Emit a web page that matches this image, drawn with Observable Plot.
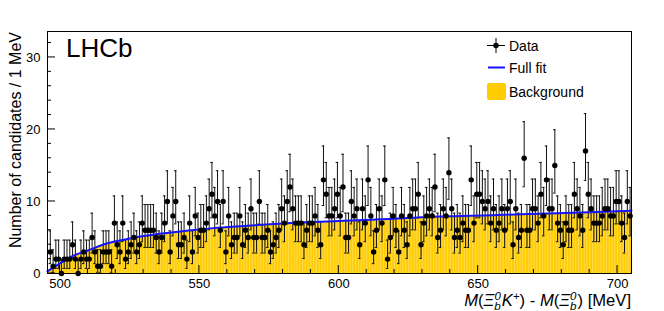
<!DOCTYPE html>
<html><head><meta charset="utf-8">
<script src="https://cdn.jsdelivr.net/npm/d3@7"></script>
<script src="https://cdn.jsdelivr.net/npm/@observablehq/plot@0.6"></script>
<style>body{margin:0;background:#fff} svg{display:block}</style>
</head><body><div id="chart"></div>
<script>
// lower edge of first 1 MeV bin
const binLow = 496;
// candidates per 1 MeV bin, 496..704
const counts = [
 3,1,2,2,0,2,2,2,4,2,
 0,2,3,2,2,5,3,1,1,3,
 3,3,1,7,4,3,7,2,3,4,
 5,3,4,7,6,6,6,6,5,3,
 5,7,10,3,8,10,4,4,5,2,
 7,3,8,5,6,6,7,9,11,8,
 10,6,10,3,8,4,5,5,8,4,
 6,5,9,5,5,10,5,5,6,3,
 4,5,6,9,7,10,12,9,7,7,
 7,4,6,7,7,8,6,4,13,11,
 8,8,9,11,8,12,5,5,10,8,
 9,4,9,7,13,8,3,6,9,7,
 13,2,5,8,6,3,8,6,4,8,
 9,9,11,4,7,8,9,8,12,5,
 6,9,8,14,9,5,6,5,7,6,
 6,13,7,11,11,10,9,10,7,9,
 6,7,9,6,9,10,4,9,5,6,
 16,6,6,9,9,7,11,8,13,9,
 9,15,7,6,4,7,6,6,11,9,
 8,6,17,11,9,7,7,7,8,9,
 9,8,8,10,10,7,5,10,8
];
// Poisson (Garwood 68%) interval bounds for a count n = index
const poissonLow  = [0,0.17,0.71,1.37,2.09,2.84,3.62,4.42,5.23,6.06,6.89,7.73,8.58,9.44,10.30,11.17,12.04,12.92];
const poissonHigh = [1.84,3.30,4.64,5.92,7.16,8.38,9.58,10.77,11.95,13.11,14.27,15.42,16.56,17.70,18.83,19.96,21.08,22.20];
// full fit curve
const fitMass  = [495.5,500,505,510,517,523,530,540,547,555,566,580,600,620,636,655,672,690,705];
const fitValue = [0.3,1.4,2.5,3.2,4.2,4.7,5.2,5.7,6.0,6.3,6.6,6.95,7.3,7.6,7.9,8.1,8.3,8.5,8.7];
// background component
const bkgValue = [0.3,1.4,2.5,3.2,4.2,4.7,5.2,5.7,6.0,6.3,6.6,6.95,7.3,7.6,7.9,8.1,8.3,8.5,8.7];
const xTicks = [500,550,600,650,700];
const xMinorTicks = [510,520,530,540,560,570,580,590,610,620,630,640,660,670,680,690];
const yTicks = [0,10,20,30];
const yMinorTicks = [2,4,6,8,12,14,16,18,22,24,26,28,32];

const data = counts.map((n, i) => ({m: binLow + i + 0.5, edge: binLow + i, n, lo: poissonLow[n], hi: poissonHigh[n]}));
const fit = fitMass.map((m, i) => ({m, v: fitValue[i]}));
const bkg = fitMass.map((m, i) => ({m, v: bkgValue[i]}));

const font = "'Liberation Sans', Arial, Helvetica, sans-serif";
const plot = Plot.plot({
  width: 664, height: 311,
  marginLeft: 47, marginRight: 33, marginTop: 31, marginBottom: 38,
  style: {fontFamily: font, fontSize: "13px", background: "white", color: "black"},
  x: {domain: [495.5, 705]},
  y: {domain: [0, 33.6]},
  marks: [
    Plot.areaY(bkg, {x: "m", y: "v", fill: "#ffcc00", curve: "monotone-x", ariaDescription: "bkg"}),
    Plot.ruleX(data, {x: "edge", y1: 0, y2: 9, stroke: "#ffe27a", strokeWidth: 0.7, ariaDescription: "stripes"}),
    Plot.ruleX(data, {x: "m", y1: "lo", y2: "hi", stroke: "#111", strokeWidth: 1}),
    Plot.ruleY(data, {y: "lo", x1: d => d.m - 0.45, x2: d => d.m + 0.45, stroke: "#111"}),
    Plot.ruleY(data, {y: "hi", x1: d => d.m - 0.45, x2: d => d.m + 0.45, stroke: "#111"}),
    Plot.line(fit, {x: "m", y: "v", stroke: "#1414ff", strokeWidth: 2, curve: "monotone-x"}),
    Plot.dot(data, {x: "m", y: "n", r: 2.7, fill: "black"}),
    Plot.axisX({ticks: xTicks, tickSize: 0, tickPadding: 5, label: null}),
    Plot.axisY({ticks: yTicks, tickSize: 0, tickPadding: 7, label: null}),
    Plot.frame({stroke: "black"})
  ]
});
document.getElementById("chart").appendChild(plot);

const svg = d3.select(plot);
const sx = plot.scale("x"), sy = plot.scale("y");
const y0 = sy.apply(0), x0 = sx.apply(495.5);

// clip the bin-edge stripes to the background area
try {
  const areaEl = svg.select('[aria-description="bkg"] path');
  const stripes = svg.select('[aria-description="stripes"]');
  if (!areaEl.empty() && !stripes.empty()) {
    svg.append("defs").append("clipPath").attr("id", "bkgclip").append("path").attr("d", areaEl.attr("d"));
    stripes.attr("clip-path", "url(#bkgclip)");
  } else if (!stripes.empty()) {
    stripes.remove();
  }
} catch (e) {}

// inward ticks, ROOT style
const tk = svg.append("g").attr("stroke", "black").attr("stroke-width", 1);
xMinorTicks.forEach(v => tk.append("line").attr("x1", sx.apply(v)).attr("x2", sx.apply(v)).attr("y1", y0).attr("y2", y0 - 4));
xTicks.forEach(v => tk.append("line").attr("x1", sx.apply(v)).attr("x2", sx.apply(v)).attr("y1", y0).attr("y2", y0 - 8));
yMinorTicks.forEach(v => tk.append("line").attr("y1", sy.apply(v)).attr("y2", sy.apply(v)).attr("x1", x0).attr("x2", x0 + 4));
yTicks.forEach(v => tk.append("line").attr("y1", sy.apply(v)).attr("y2", sy.apply(v)).attr("x1", x0).attr("x2", x0 + 8));

// y-axis title
svg.append("text")
  .attr("transform", "translate(20.5,32) rotate(-90)")
  .attr("text-anchor", "end")
  .attr("font-family", font).attr("font-size", 16)
  .text("Number of candidates / 1 MeV");
// x-axis title
const xt = svg.append("text")
  .attr("x", 631).attr("y", 305.5)
  .attr("text-anchor", "end")
  .attr("font-family", font).attr("font-size", 16.6);
xt.append("tspan").attr("font-style", "italic").text("M");
xt.append("tspan").text("(");
xt.append("tspan").attr("font-style", "italic").text("Ξ");
xt.append("tspan").attr("font-style", "italic").attr("font-size", 11.5).attr("dy", 4).text("b");
xt.append("tspan").attr("font-style", "italic").attr("font-size", 11.5).attr("dy", -10).attr("dx", -6.3).text("0");
xt.append("tspan").attr("font-style", "italic").attr("dy", 6).attr("dx", 1).text("K");
xt.append("tspan").attr("font-size", 11.5).attr("dy", -6).text("+");
xt.append("tspan").attr("dy", 6).text(") - ");
xt.append("tspan").attr("font-style", "italic").text("M");
xt.append("tspan").text("(");
xt.append("tspan").attr("font-style", "italic").text("Ξ");
xt.append("tspan").attr("font-style", "italic").attr("font-size", 11.5).attr("dy", 4).text("b");
xt.append("tspan").attr("font-style", "italic").attr("font-size", 11.5).attr("dy", -10).attr("dx", -6.3).text("0");
xt.append("tspan").attr("dy", 6).attr("dx", 1).text(") [MeV]");

// LHCb label
svg.append("text").attr("x", 66).attr("y", 57).attr("text-anchor", "start")
  .attr("font-family", font).attr("font-size", 26).text("LHCb");

// legend
const lg = svg.append("g").attr("font-family", font).attr("font-size", 14).attr("text-anchor", "start");
lg.append("line").attr("x1", 487).attr("x2", 505).attr("y1", 45.5).attr("y2", 45.5).attr("stroke", "black");
lg.append("line").attr("x1", 496).attr("x2", 496).attr("y1", 38).attr("y2", 53).attr("stroke", "black");
lg.append("circle").attr("cx", 496).attr("cy", 45.5).attr("r", 2.8).attr("fill", "black");
lg.append("text").attr("x", 509).attr("y", 50.5).text("Data");
lg.append("line").attr("x1", 488).attr("x2", 505).attr("y1", 67.5).attr("y2", 67.5).attr("stroke", "#1414ff").attr("stroke-width", 2);
lg.append("text").attr("x", 509).attr("y", 72.5).text("Full fit");
lg.append("rect").attr("x", 487).attr("y", 83).attr("width", 19).attr("height", 17).attr("rx", 2).attr("fill", "#ffcc00");
lg.append("text").attr("x", 509).attr("y", 96.5).text("Background");
</script></body></html>
